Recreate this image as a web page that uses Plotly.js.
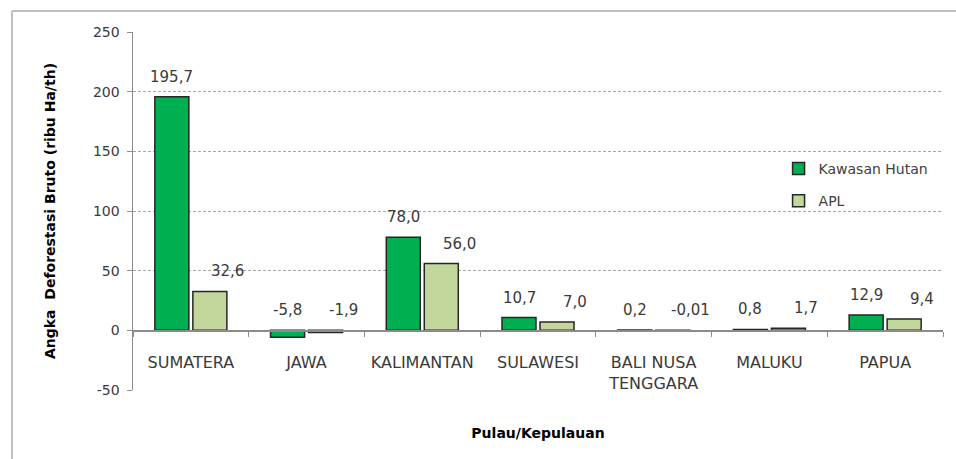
<!DOCTYPE html>
<html><head><meta charset="utf-8">
<script src="https://cdn.plot.ly/plotly-3.0.1.min.js"></script>
<style>html,body{margin:0;padding:0;background:#fff}</style>
</head><body>
<div id="chart" style="width:956px;height:459px"></div>
<script>
const categories = ['SUMATERA','JAWA','KALIMANTAN','SULAWESI','BALI NUSA<br>TENGGARA','MALUKU','PAPUA'];
const kawasanHutan = [195.7, -5.8, 78.0, 10.7, 0.2, 0.8, 12.9];
const apl = [32.6, -1.9, 56.0, 7.0, -0.01, 1.7, 9.4];
const kawasanLabels = ['195,7','-5,8','78,0','10,7','0,2','0,8','12,9'];
const aplLabels = ['32,6','-1,9','56,0','7,0','-0,01','1,7','9,4'];
const yTicks = [-50, 0, 50, 100, 150, 200, 250];

const FONT = 'DejaVu Sans';
const traces = [
  {type:'bar', name:'Kawasan Hutan', x:categories, y:kawasanHutan, legendgroup:'a',
   marker:{color:'#00B050', line:{color:'#262626', width:1.5}}, hoverinfo:'none'},
  {type:'bar', name:'APL', x:categories, y:apl, legendgroup:'b',
   marker:{color:'#C3D69B', line:{color:'#262626', width:1.5}}, hoverinfo:'none'}
];

const annotations = [];
categories.forEach((c, i) => {
  annotations.push({x:c, y:Math.max(kawasanHutan[i],0), xref:'x', yref:'y', text:kawasanLabels[i],
    showarrow:false, xshift:-19, yshift:20, font:{family:FONT, size:15, color:'#3a3a3a'}});
  annotations.push({x:c, y:Math.max(apl[i],0), xref:'x', yref:'y', text:aplLabels[i],
    showarrow:false, xshift:37, yshift:20, font:{family:FONT, size:15, color:'#3a3a3a'}});
});

const layout = {
  width:956, height:459,
  margin:{l:133, r:13, t:32, b:69},
  paper_bgcolor:'#fff', plot_bgcolor:'#fff',
  font:{family:FONT, color:'#404040'},
  barmode:'group', bargap:0.343, bargroupgap:0.105,
  showlegend:true,
  legend:{x:0.797, y:0.662, xanchor:'left', yanchor:'top', bgcolor:'rgba(0,0,0,0)',
    font:{family:FONT, size:14, color:'#404040'}, tracegroupgap:11, traceorder:'grouped'},
  xaxis:{type:'category', anchor:'free', position:1/6, showline:true, linecolor:'#8c8c8c', linewidth:1.5,
    ticks:'outside', tickson:'boundaries', ticklen:5, tickcolor:'#8c8c8c', showgrid:false,
    tickfont:{family:FONT, size:16, color:'#3a3a3a'}, ticklabelstandoff:17,
    title:{text:'Pulau/Kepulauan', font:{family:FONT, size:14, color:'#000', weight:'bold'}, standoff:36}},
  yaxis:{range:[-50,250], tickmode:'array', tickvals:yTicks, ticktext:yTicks.map(String),
    showgrid:true, gridcolor:'#a6a6a6', griddash:'3px,2px', gridwidth:1,
    showline:true, linecolor:'#8c8c8c', linewidth:1.5, zeroline:false,
    ticks:'outside', ticklen:5, tickcolor:'#8c8c8c',
    tickfont:{family:FONT, size:14, color:'#3a3a3a'}, ticklabelstandoff:4,
    title:{text:'Angka  Deforestasi Bruto (ribu Ha/th)', font:{family:FONT, size:14, color:'#000', weight:'bold'}, standoff:34}},
  annotations:annotations,
  shapes:[
    {type:'line', xref:'paper', yref:'paper', x0:-0.1494, x1:-0.1494, y0:-0.25, y1:1.0587, line:{color:'#bfbfbf', width:2}},
    {type:'line', xref:'paper', yref:'paper', x0:-0.1494, x1:1.03, y0:1.0587, y1:1.0587, line:{color:'#bfbfbf', width:2}}
  ]
};
Plotly.newPlot('chart', traces, layout, {displayModeBar:false, staticPlot:true});
</script>
</body></html>
